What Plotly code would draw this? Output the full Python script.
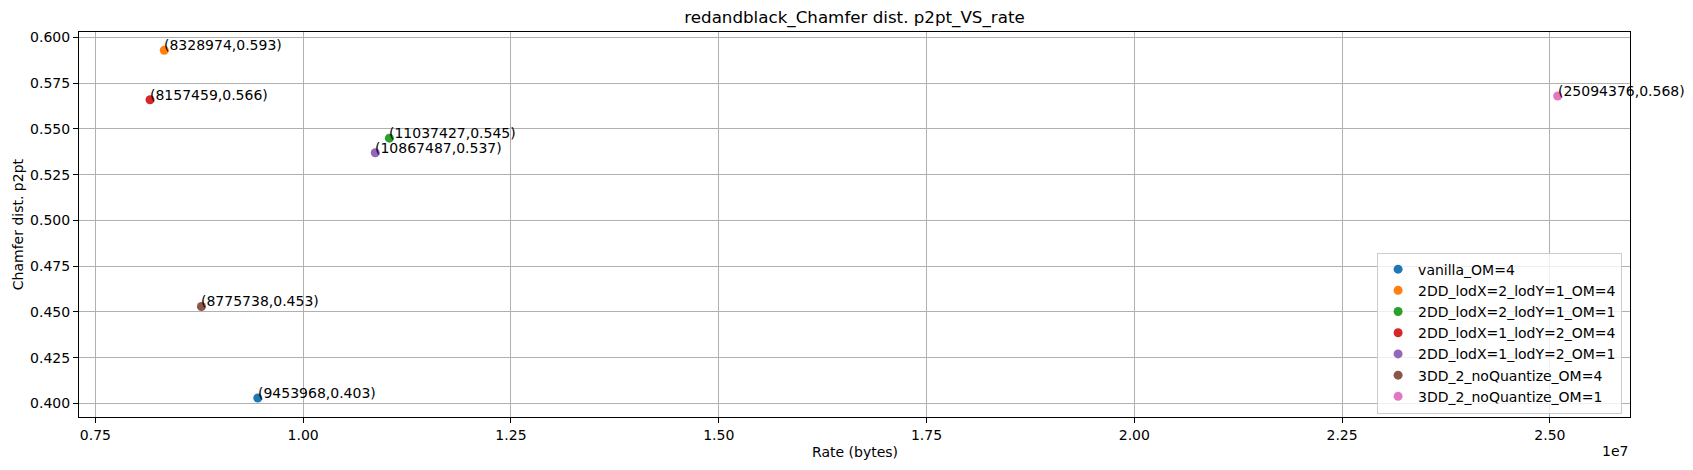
import plotly.graph_objects as go

# one point per configuration
names = [
    "vanilla_OM=4",
    "2DD_lodX=2_lodY=1_OM=4",
    "2DD_lodX=2_lodY=1_OM=1",
    "2DD_lodX=1_lodY=2_OM=4",
    "2DD_lodX=1_lodY=2_OM=1",
    "3DD_2_noQuantize_OM=4",
    "3DD_2_noQuantize_OM=1",
]
rates = [9453968, 8328974, 11037427, 8157459, 10867487, 8775738, 25094376]
chamfer = [0.403, 0.593, 0.545, 0.566, 0.537, 0.453, 0.568]
colors = ["#1f77b4", "#ff7f0e", "#2ca02c", "#d62728", "#9467bd", "#8c564b", "#e377c2"]

x_ticks = [0.75e7, 1.0e7, 1.25e7, 1.5e7, 1.75e7, 2.0e7, 2.25e7, 2.5e7]
x_ticktext = ["0.75", "1.00", "1.25", "1.50", "1.75", "2.00", "2.25", "2.50"]
y_ticks = [0.400, 0.425, 0.450, 0.475, 0.500, 0.525, 0.550, 0.575, 0.600]
y_ticktext = ["0.400", "0.425", "0.450", "0.475", "0.500", "0.525", "0.550", "0.575", "0.600"]

FONT = "DejaVu Sans"

fig = go.Figure()

for name, r, c, col in zip(names, rates, chamfer, colors):
    fig.add_trace(go.Scatter(
        x=[r], y=[c],
        mode="markers",
        name=name,
        marker=dict(color=col, size=9, line=dict(width=0)),
    ))
    fig.add_annotation(
        x=r, y=c,
        text=f"({r},{c:.3f})",
        showarrow=False,
        xanchor="left", yanchor="bottom",
        xshift=-2, yshift=-5,
        font=dict(family=FONT, size=14, color="black"),
    )

axis_common = dict(
    showline=True, linecolor="black", linewidth=1, mirror=True,
    ticks="outside", ticklen=5, tickwidth=1, tickcolor="black",
    showgrid=True, gridcolor="#b0b0b0", gridwidth=1,
    zeroline=False,
    tickfont=dict(family=FONT, size=14, color="black"),
)

fig.update_xaxes(
    range=[7303000, 25964000],
    tickvals=x_ticks, ticktext=x_ticktext,
    **axis_common,
)
fig.update_yaxes(
    range=[0.3926, 0.6030],
    tickvals=y_ticks, ticktext=y_ticktext,
    **axis_common,
)

# axis labels and the offset text
fig.add_annotation(
    x=0.5, y=-0.092, xref="paper", yref="paper",
    text="Rate (bytes)", showarrow=False,
    xanchor="center", yanchor="middle",
    font=dict(family=FONT, size=14, color="black"),
)
fig.add_annotation(
    x=-0.0395, y=0.5, xref="paper", yref="paper",
    text="Chamfer dist. p2pt", showarrow=False, textangle=-90,
    xanchor="center", yanchor="middle",
    font=dict(family=FONT, size=14, color="black"),
)
fig.add_annotation(
    x=1.0, y=-0.0894, xref="paper", yref="paper",
    text="1e7", showarrow=False,
    xanchor="right", yanchor="middle",
    font=dict(family=FONT, size=14, color="black"),
)

fig.update_layout(
    width=1693, height=470,
    margin=dict(l=79, r=63, t=32, b=53),
    paper_bgcolor="white", plot_bgcolor="white",
    title=dict(
        text="redandblack_Chamfer dist. p2pt_VS_rate",
        x=0.5, xref="paper", xanchor="center",
        y=1 - 17 / 470, yref="container", yanchor="middle",
        font=dict(family=FONT, size=16.7, color="black"),
    ),
    legend=dict(
        x=0.9949, y=0.009, xanchor="right", yanchor="bottom",
        bgcolor="rgba(255,255,255,0.8)", bordercolor="#cccccc", borderwidth=1,
        font=dict(family=FONT, size=14, color="black"),
    ),
    showlegend=True,
)

# page body margin would shift the figure by 8px
fig.write_html(
    "out.html",
    config={"displayModeBar": False},
    post_script="document.body.style.margin='0';",
)
